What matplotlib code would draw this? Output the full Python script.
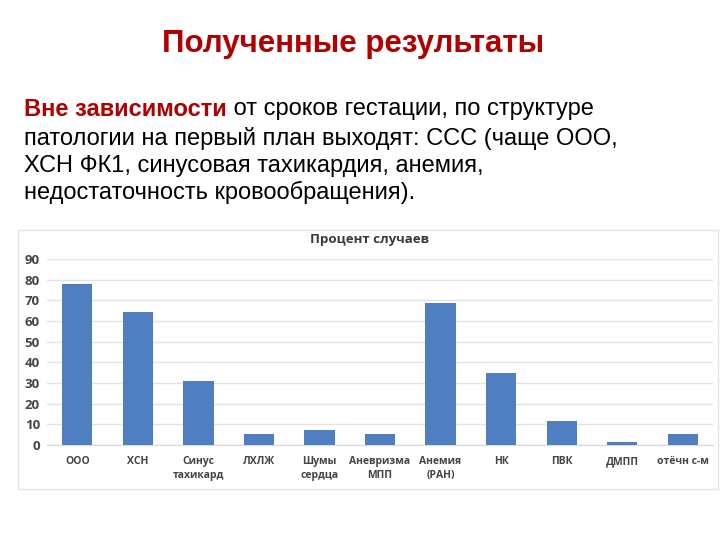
import matplotlib
matplotlib.use('Agg')
import matplotlib.pyplot as plt
from matplotlib.patches import Rectangle

categories = ['ООО', 'ХСН', 'Синус\nтахикард', 'ЛХЛЖ', 'Шумы\nсердца',
              'Аневризма\nМПП', 'Анемия\n(РАН)', 'НК', 'ПВК', 'ДМПП', 'отёчн с-м']
values = [78, 64.5, 31, 5.5, 7.5, 5.5, 68.5, 35, 11.5, 1.5, 5.5]
yticks = [0, 10, 20, 30, 40, 50, 60, 70, 80, 90]

title = 'Полученные результаты'
lead = 'Вне зависимости'
lines = [' от сроков гестации, по структуре',
         'патологии на первый план выходят: ССС (чаще ООО,',
         'ХСН ФК1, синусовая тахикардия, анемия,',
         'недостаточность кровообращения).']

red = '#b00000'
fam = ['Liberation Sans', 'DejaVu Sans']
fam2 = ['Open Sans', 'DejaVu Sans']

fig = plt.figure(figsize=(7.2, 5.4), dpi=100)
fig.patch.set_facecolor('white')

# header texts
fig.text(353 / 720, 1 - 44 / 540, title, ha='center', va='center', fontsize=22.5,
         fontweight='bold', color=red, family=fam)

ys = [109, 138, 166, 192]
ys = [1 - y / 540 for y in ys]
t1 = fig.text(24 / 720, ys[0], lead, ha='left', va='center', fontsize=17,
              fontweight='bold', color=red, family=fam)
r = fig.canvas.get_renderer()
bb = t1.get_window_extent(renderer=r)
fig.text(bb.x1 / fig.bbox.width, ys[0], lines[0], ha='left', va='center', fontsize=17,
         color='black', family=fam)
for y, s in zip(ys[1:], lines[1:]):
    fig.text(24 / 720, y, s, ha='left', va='center', fontsize=17,
             color='black', family=fam)

# chart frame
fig.patches.append(Rectangle((18 / 720, 1 - 489 / 540), 700 / 720, 259 / 540,
                             transform=fig.transFigure, facecolor='white',
                             edgecolor='#e4e4e4', linewidth=1, zorder=-5))

ax = fig.add_axes([47 / 720, 1 - 445 / 540, 666 / 720, 186 / 540])
ax.set_facecolor('none')
x = range(len(categories))
ax.bar(x, values, width=0.5, color='#4f7fc0', zorder=3)
ax.set_xlim(-0.5, len(categories) - 0.5)
ax.set_ylim(0, 90)
ax.set_yticks(yticks)
ax.yaxis.grid(True, color='#e3e3e3', linewidth=1, zorder=0)
for s in ax.spines.values():
    s.set_visible(False)
ax.spines['bottom'].set_visible(True)
ax.spines['bottom'].set_color('#d9d9d9')
ax.tick_params(axis='y', length=0, pad=5)
ax.tick_params(axis='x', length=0, pad=8)
ax.set_xticks(list(x))
ax.set_xticklabels(categories, fontsize=7.5, fontweight='bold', color='#454545',
                   family=fam2, linespacing=1.4)
for lab in ax.get_yticklabels():
    lab.set_fontsize(9.5)
    lab.set_fontweight('bold')
    lab.set_color('#454545')
    lab.set_family(fam2)

fig.text(370 / 720, 1 - 240 / 540, 'Процент случаев', ha='center', va='center',
         fontsize=9.5, fontweight='bold', color='#3a3a3a', family=fam2)

fig.savefig('out.png', dpi=100)
